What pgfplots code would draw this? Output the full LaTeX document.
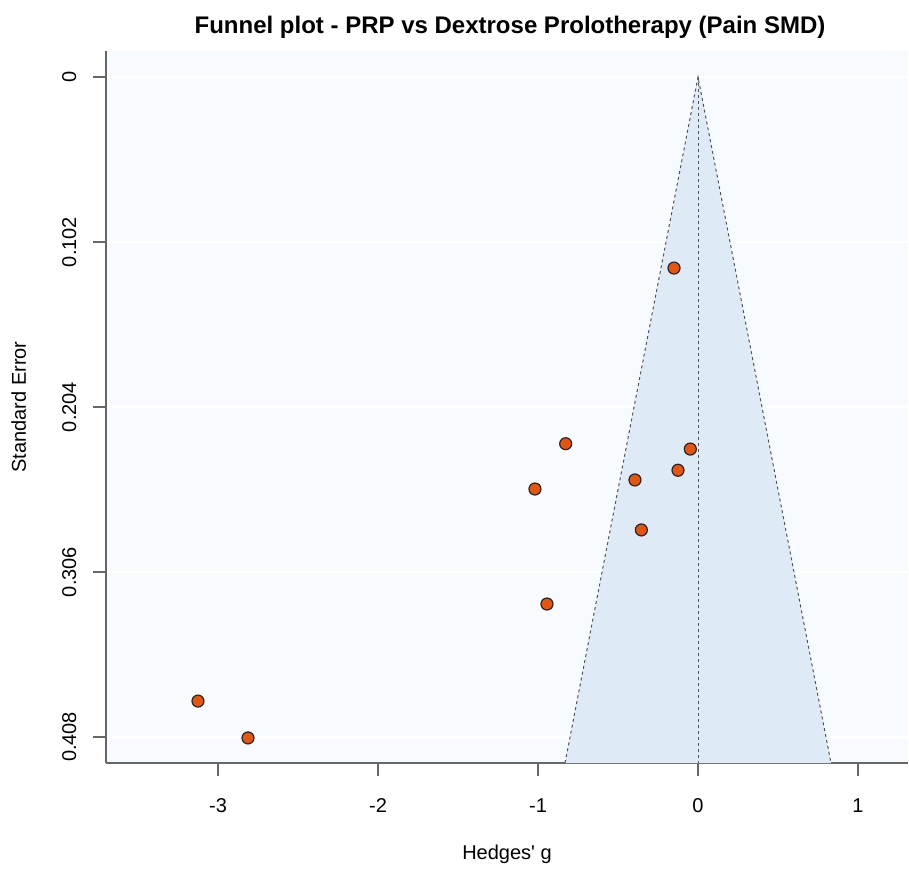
\documentclass[border=0pt]{standalone}
\usepackage{fontspec}
\setmainfont{Liberation Sans}
\newfontfamily\plainfont{Liberation Sans}
\usepackage{pgfplots}
\pgfplotsset{compat=1.18}
\definecolor{bgfill}{HTML}{F7FBFF}
\definecolor{funnelfill}{HTML}{DEEAF6}
\definecolor{ptfill}{HTML}{E6550D}
\definecolor{axgray}{HTML}{666666}
\definecolor{dashgray}{HTML}{555555}
\begin{document}
\begin{tikzpicture}
\begin{axis}[
    at={(0,0)}, anchor=south west,
    scale only axis, width=401pt, height=356pt,
    xmin=-3.7, xmax=1.3125, ymin=-0.0161, ymax=0.4241,
    y dir=reverse,
    axis x line*=bottom, axis y line*=left,
    axis line style={axgray, line width=0.75pt, -},
    axis background/.style={fill=bgfill},
    xtick={-3,-2,-1,0,1}, xticklabels={-3,-2,-1,0,1},
    ytick={0,0.102,0.204,0.306,0.408},
    yticklabels={0,0.102,0.204,0.306,0.408},
    tick align=outside, major tick length=6.25pt,
    tick style={axgray, line width=0.75pt},
    ymajorgrids, grid style={white, line width=0.75pt},
    ticklabel style={font=\fontsize{10}{12}\selectfont},
    xticklabel shift=8pt,
    yticklabel style={rotate=90, anchor=south},
    yticklabel shift=5pt,
    xlabel={Hedges' g},
    xlabel style={at={(axis description cs:0.5,-0.1362)}, anchor=base, font=\plainfont\fontsize{10}{12}\selectfont},
    ylabel={Standard Error},
    ylabel style={at={(axis description cs:-0.0998,0.5)}, anchor=base, rotate=0, font=\fontsize{10}{12}\selectfont},
    clip=true,
]
\addplot[fill=funnelfill, draw=none] coordinates {(-0.8312,0.4241) (0,0) (0.8312,0.4241)} -- cycle;
\addplot[dashgray, line width=0.5pt, dash pattern=on 1.5pt off 1.5pt] coordinates {(-0.8312,0.4241) (0,0) (0.8312,0.4241)};
\addplot[dashgray, line width=0.5pt, dash pattern=on 1.5pt off 1.5pt] coordinates {(0,0) (0,0.4241)};
\addplot[only marks, mark=*, mark size=3pt, mark options={fill=ptfill, draw=black!85, line width=0.6pt}] coordinates {
  (-0.150,0.1181) (-0.827,0.2267) (-0.048,0.2300) (-0.125,0.2431)
  (-0.394,0.2491) (-1.019,0.2547) (-0.354,0.2800) (-0.944,0.3258)
  (-3.125,0.3858) (-2.8125,0.4086)};
\end{axis}
\node[anchor=base, font=\bfseries\fontsize{12}{14}\selectfont, inner sep=0pt] at (202pt,364.5pt)
  {Funnel plot - PRP vs Dextrose Prolotherapy (Pain SMD)};
\useasboundingbox (-53pt,-51pt) rectangle (401.5pt,381.5pt);
\end{tikzpicture}
\end{document}
